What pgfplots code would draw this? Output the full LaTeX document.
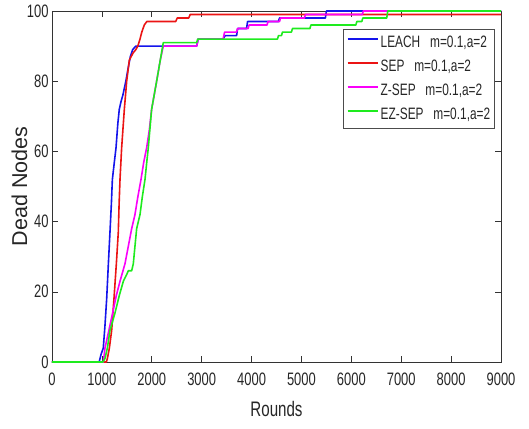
\documentclass[border=0pt]{standalone}
\usepackage{fontspec}
\setmainfont{Liberation Sans}[FakeStretch=0.72]
\newfontfamily\ylabfont{Liberation Sans}
\usepackage{pgfplots}
\pgfplotsset{compat=1.18}

\definecolor{cleach}{RGB}{20,20,235}
\definecolor{csep}{RGB}{235,20,20}
\definecolor{czsep}{RGB}{250,0,250}
\definecolor{cezsep}{RGB}{30,235,30}

\begin{document}
\begin{tikzpicture}
\begin{axis}[
    scale only axis,
    width=449pt, height=351pt,
    xmin=0, xmax=9000, ymin=0, ymax=100,
    xtick={0,1000,...,9000}, ytick={0,20,...,100},
    scaled x ticks=false,
    /pgf/number format/assume math mode=true,
    /pgf/number format/1000 sep={},
    tick align=inside, major tick length=6pt,
    tick style={black!80, line width=0.6pt},
    axis line style={black!80, line width=0.8pt},
    tick label style={font=\fontsize{18}{20}\selectfont, text=black!85},
    xticklabel style={yshift=-7pt},
    xlabel={Rounds},
    ylabel={\ylabfont Dead Nodes},
    xlabel style={at={(axis description cs:0.5,-0.1026)}, anchor=north,
      font=\fontsize{21}{24}\selectfont, text=black!85},
    ylabel style={at={(axis description cs:-0.0468,0.5)}, anchor=south,
      font=\fontsize{21.5}{24}\selectfont, text=black!85},
    legend style={at={(axis description cs:0.647,0.948)}, anchor=north west,
      draw=black!70, line width=0.6pt, font=\fontsize{16.5}{18}\selectfont,
      text=black!85, inner xsep=4pt, inner ysep=6pt, row sep=9pt,
      column sep=2.3pt, nodes={inner sep=0pt, text height=12pt, text depth=3pt}},
    legend cell align=left,
    legend image code/.code={\draw[#1, line width=1.6pt] (0pt,4pt) -- (30pt,4pt);},
    every axis plot/.append style={line width=1.6pt, line join=round},
  ]
\coordinate (sw) at (rel axis cs:0,0);
\coordinate (ne) at (rel axis cs:1,1);

% LEACH
\addplot[cleach] coordinates {
 (0,0) (945,0) (980,2) (1028,4) (1060,10) (1096,18) (1130,28) (1162,37)
 (1190,45) (1210,52) (1250,57) (1283,61) (1320,68) (1349,72) (1380,74)
 (1420,76) (1480,80) (1530,84) (1570,87) (1617,89) (1680,90) (2900,90)
 (2930,92) (3430,92) (3470,93) (3700,93) (3720,95) (3900,95) (3920,97)
 (4540,97) (4560,98) (5480,98) (5500,100) (9000,100)
};
% SEP
\addplot[csep] coordinates {
 (0,0) (1090,0) (1110,1) (1150,4) (1196,9) (1242,18) (1290,28) (1329,37)
 (1345,45) (1363,52) (1396,61) (1450,72) (1497,80) (1550,86) (1623,88)
 (1680,89) (1720,90) (1764,92) (1800,94) (1850,96) (1900,97) (2480,97)
 (2510,98) (2740,98) (2770,99) (9000,99)
};
% Z-SEP
\addplot[czsep] coordinates {
 (0,0) (1030,0) (1062,4) (1140,9) (1216,14) (1290,19) (1363,23) (1463,28)
 (1530,33) (1597,38) (1663,42) (1720,47) (1784,52) (1840,57) (1897,61)
 (1950,66) (1997,72) (2060,77) (2110,81) (2170,86) (2231,90) (2900,90)
 (2930,92) (3430,92) (3460,94) (3700,94) (3720,95) (3930,95) (3950,96)
 (4310,96) (4330,97) (4560,97) (4580,98) (5060,98) (5080,99) (6220,99)
 (6240,100) (9000,100)
};
% EZ-SEP
\addplot[cezsep] coordinates {
 (0,0) (1020,0) (1062,1) (1110,4) (1162,9) (1263,14) (1350,19) (1430,23)
 (1500,25) (1530,26) (1597,26) (1630,28) (1663,33) (1697,38) (1764,42)
 (1810,47) (1864,52) (1900,57) (1930,61) (1997,72) (2060,77) (2110,81)
 (2170,86) (2231,91) (2900,91) (2920,92) (4520,92) (4540,93) (4600,93)
 (4620,94) (4800,94) (4820,95) (5170,95) (5190,96) (6090,96) (6110,97)
 (6210,97) (6230,98) (6710,98) (6730,100) (9000,100)
};
\legend{{LEACH\hspace{6.5pt} m=0.1,a=2}, {SEP\hspace{6.5pt} m=0.1,a=2},
  {Z-SEP\hspace{6.5pt} m=0.1,a=2}, {EZ-SEP\hspace{6.5pt} m=0.1,a=2}}
\end{axis}
\pgfresetboundingbox
\path ([shift={(-52pt,-66pt)}]sw) rectangle ([shift={(28pt,11pt)}]ne);
\end{tikzpicture}
\end{document}
